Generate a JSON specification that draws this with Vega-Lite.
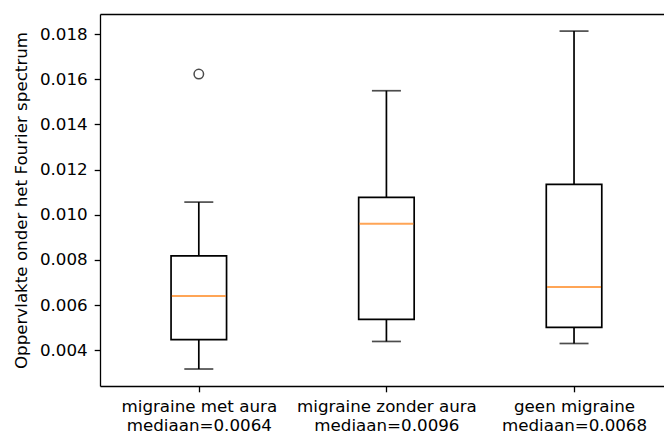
{
  "$schema": "https://vega.github.io/schema/vega-lite/v6.json",
  "autosize": "none",
  "padding": {"left": 100, "top": 14, "right": 0, "bottom": 48},
  "width": 564,
  "height": 372,
  "background": "white",
  "config": {
    "view": {"stroke": null},
    "axis": {
      "labelFont": "DejaVu Sans",
      "titleFont": "DejaVu Sans",
      "labelFontSize": 16.7,
      "titleFontSize": 16.7,
      "labelFontWeight": "normal",
      "labelColor": "black",
      "titleColor": "black",
      "titleFontWeight": "normal",
      "tickColor": "black",
      "domainColor": "black",
      "tickWidth": 1.3,
      "domainWidth": 1.3,
      "tickSize": 5.8,
      "grid": false
    }
  },
  "layer": [
    {
      "data": {
        "values": [
          {"groep": "migraine met aura", "pos": 1, "lo": 0.00317, "q1": 0.00447, "mediaan": 0.0064, "q3": 0.00818, "hi": 0.01056},
          {"groep": "migraine zonder aura", "pos": 2, "lo": 0.00439, "q1": 0.00537, "mediaan": 0.0096, "q3": 0.01077, "hi": 0.01549},
          {"groep": "geen migraine", "pos": 3, "lo": 0.0043, "q1": 0.00501, "mediaan": 0.0068, "q3": 0.01134, "hi": 0.01813}
        ]
      },
      "encoding": {
        "x": {
          "field": "pos",
          "type": "quantitative",
          "scale": {"domain": [0.5, 3.4529], "nice": false, "zero": false},
          "axis": {
            "orient": "bottom",
            "title": null,
            "values": [1, 2, 3],
            "labelExpr": "datum.value == 1 ? ['migraine met aura', 'mediaan=0.0064'] : datum.value == 2 ? ['migraine zonder aura', 'mediaan=0.0096'] : ['geen migraine', 'mediaan=0.0068']",
            "labelPadding": 7,
            "labelLineHeight": 19,
            "labelDx": -1.5,
            "labelOverlap": false,
            "labelBound": false,
            "labelFlush": false
          }
        }
      },
      "layer": [
        {
          "mark": {"type": "rule", "color": "black", "strokeWidth": 1.7},
          "encoding": {
            "y": {
              "field": "lo",
              "type": "quantitative",
              "title": "Oppervlakte onder het Fourier spectrum",
              "scale": {"domain": [0.002418, 0.018887], "nice": false, "zero": false},
              "axis": {
                "values": [0.004, 0.006, 0.008, 0.01, 0.012, 0.014, 0.016, 0.018],
                "format": ".3f",
                "labelPadding": 7,
                "titleAngle": 270,
                "titleX": -73.5,
                "titleY": 186,
                "titleAlign": "center",
                "titleBaseline": "alphabetic"
              }
            },
            "y2": {"field": "q1"}
          }
        },
        {
          "mark": {"type": "rule", "color": "black", "strokeWidth": 1.7},
          "encoding": {
            "y": {"field": "q3", "type": "quantitative", "title": "Oppervlakte onder het Fourier spectrum"},
            "y2": {"field": "hi"}
          }
        },
        {
          "mark": {"type": "tick", "orient": "horizontal", "color": "black", "size": 29, "thickness": 1.7},
          "encoding": {
            "y": {"field": "lo", "type": "quantitative", "title": "Oppervlakte onder het Fourier spectrum"}
          }
        },
        {
          "mark": {"type": "tick", "orient": "horizontal", "color": "black", "size": 29, "thickness": 1.7},
          "encoding": {
            "y": {"field": "hi", "type": "quantitative", "title": "Oppervlakte onder het Fourier spectrum"}
          }
        },
        {
          "mark": {"type": "bar", "orient": "vertical", "size": 55.5, "fill": "white", "stroke": "black", "strokeWidth": 1.7},
          "encoding": {
            "y": {"field": "q1", "type": "quantitative", "title": "Oppervlakte onder het Fourier spectrum"},
            "y2": {"field": "q3"}
          }
        },
        {
          "mark": {"type": "tick", "orient": "horizontal", "color": "#ff7f0e", "size": 54, "thickness": 1.9},
          "encoding": {
            "y": {"field": "mediaan", "type": "quantitative", "title": "Oppervlakte onder het Fourier spectrum"}
          }
        }
      ]
    },
    {
      "data": {"values": [{"groep": "migraine met aura", "pos": 1, "waarde": 0.01623}]},
      "mark": {"type": "point", "shape": "circle", "filled": false, "stroke": "black", "strokeWidth": 1.5, "size": 90},
      "encoding": {
        "x": {
          "field": "pos",
          "type": "quantitative",
          "scale": {"domain": [0.5, 3.4529], "nice": false, "zero": false},
          "axis": {"orient": "top", "title": null, "labels": false, "ticks": false, "domain": true}
        },
        "y": {"field": "waarde", "type": "quantitative", "title": "Oppervlakte onder het Fourier spectrum"}
      }
    }
  ],
  "resolve": {"axis": {"x": "independent"}}
}
